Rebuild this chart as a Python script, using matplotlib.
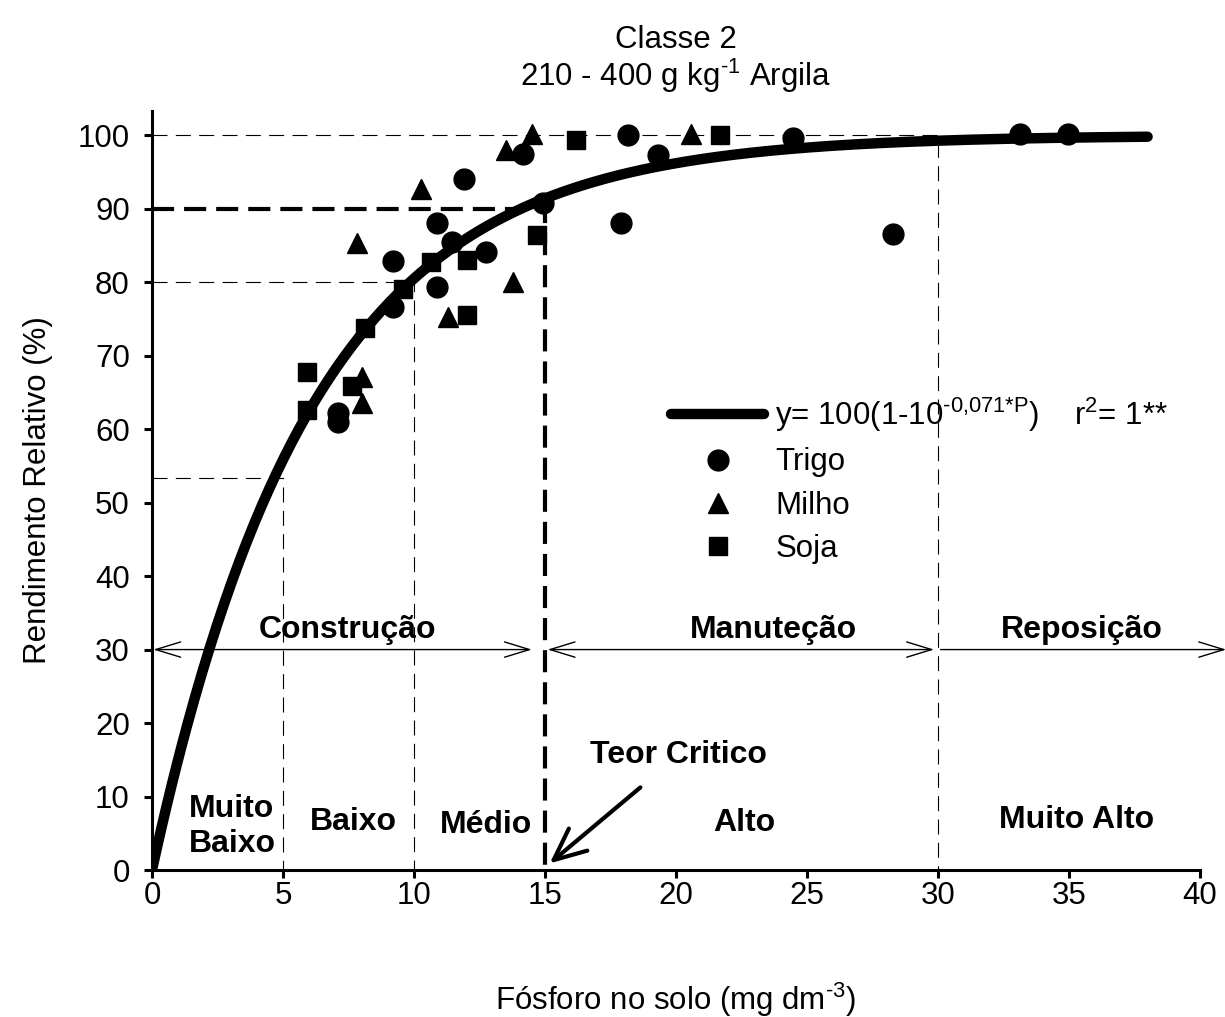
import numpy as np
import matplotlib.pyplot as plt
from matplotlib.lines import Line2D

plt.rcParams['font.family'] = ['Liberation Sans', 'DejaVu Sans']
plt.rcParams['mathtext.default'] = 'regular'

# Rendimento relativo observado por cultura (P no solo, %)
trigo_p = [7.11, 7.11, 9.21, 9.21, 10.87, 10.87, 11.46, 11.92, 12.75, 14.15,
           14.94, 17.9, 18.16, 19.32, 24.45, 28.27, 33.13, 34.97]
trigo_rr = [62.2, 61.0, 82.9, 76.6, 88.1, 79.3, 85.5, 94.1, 84.1, 97.5,
            90.8, 88.1, 100.0, 97.3, 99.6, 86.5, 100.2, 100.2]

milho_p = [7.84, 8.03, 8.03, 10.26, 11.31, 13.51, 13.79, 14.49, 20.56]
milho_rr = [85.3, 67.1, 63.6, 92.7, 75.3, 98.0, 80.0, 100.2, 100.2]

soja_p = [5.93, 5.9, 7.62, 8.13, 9.59, 10.64, 12.01, 12.04, 14.68, 16.18, 21.68]
soja_rr = [67.8, 62.6, 65.9, 73.7, 79.1, 82.7, 83.0, 75.5, 86.4, 99.3, 100.0]

# modelo ajustado: y = 100(1 - 10^(-0,071 P))
coef = 0.071
p_max = 38

# faixas de interpretação
limites = [5, 10, 15, 30]
rr_limites = [53.3, 80, 90, 100]
teor_critico = 15

FS = 22.5
FSB = 23

fig = plt.figure(figsize=(12.25, 10.17), dpi=100)
ax = fig.add_axes([152 / 1225, 1 - 870 / 1017, 1048 / 1225, (870 - 111) / 1017])

thin = dict(color='black', lw=0.8, dashes=(13.5, 7.5))
# linhas guia finas
ax.plot([0, limites[0], limites[0]], [rr_limites[0], rr_limites[0], 0], **thin)
ax.plot([0, limites[1], limites[1]], [rr_limites[1], rr_limites[1], 0], **thin)
ax.plot([0, limites[3], limites[3]], [rr_limites[3], rr_limites[3], 0], **thin)
# teor crítico
ax.plot([0, teor_critico, teor_critico], [90, 90, 0], color='black', lw=3,
        dashes=(5.3, 2.4))

pp = np.linspace(0, p_max, 400)
ax.plot(pp, 100 * (1 - 10 ** (-coef * pp)), color='black', lw=7.5,
        solid_capstyle='round', zorder=3)

ax.plot(trigo_p, trigo_rr, 'o', color='black', ms=15, zorder=4)
ax.plot(milho_p, milho_rr, '^', color='black', ms=14.5, zorder=4)
ax.plot(soja_p, soja_rr, 's', color='black', ms=13.5, zorder=4)

# setas das fases de adubação
seta = 'head_length=1.8,head_width=0.55'
ax.annotate('', xy=(0.05, 30), xytext=(14.5, 30), annotation_clip=False,
            arrowprops=dict(arrowstyle='<->,' + seta, lw=1, color='black',
                            shrinkA=0, shrinkB=0))
ax.annotate('', xy=(15.1, 30), xytext=(29.85, 30), annotation_clip=False,
            arrowprops=dict(arrowstyle='<->,' + seta, lw=1, color='black',
                            shrinkA=0, shrinkB=0))
ax.annotate('', xy=(41.0, 30), xytext=(30.1, 30), annotation_clip=False,
            arrowprops=dict(arrowstyle='->,' + seta, lw=1, color='black',
                            shrinkA=0, shrinkB=0))

bold = dict(fontsize=FSB, fontweight='bold', ha='center', va='center')
ax.text(7.48, 32.6, 'Construção', **bold)
ax.text(23.7, 32.6, 'Manuteção', **bold)
ax.text(35.5, 32.6, 'Reposição', **bold)
ax.text(3.05, 5.9, 'Muito\nBaixo', linespacing=1.2, **bold)
ax.text(7.7, 6.6, 'Baixo', **bold)
ax.text(12.73, 6.1, 'Médio', **bold)
ax.text(22.6, 6.4, 'Alto', **bold)
ax.text(35.3, 6.8, 'Muito Alto', **bold)
ax.annotate('Teor Critico', xy=(15.18, 0.9), xytext=(20.1, 15.6),
            fontsize=FSB, fontweight='bold', ha='center', va='center',
            annotation_clip=False,
            arrowprops=dict(arrowstyle='->,head_length=1.0,head_width=0.45',
                            lw=3, color='black', shrinkA=16, shrinkB=0))

handles = [
    Line2D([], [], color='black', lw=7.5, solid_capstyle='round'),
    Line2D([], [], marker='o', ls='', color='black', ms=15),
    Line2D([], [], marker='^', ls='', color='black', ms=14.5),
    Line2D([], [], marker='s', ls='', color='black', ms=13.5),
]
labels = ['y= 100(1-10$^{\u2010 0{,}071{*}P}$)    r$^2$= 1**',
          'Trigo', 'Milho', 'Soja']
ax.legend(handles, labels, loc='upper left', frameon=False, fontsize=FS,
          bbox_to_anchor=(0.48, 0.645), handlelength=3.0, handletextpad=0.35,
          labelspacing=0.42, borderpad=0)

ax.set_xlim(0, 40)
ax.set_ylim(0, 103.3)
ax.set_xticks(range(0, 41, 5))
ax.set_yticks(range(0, 101, 10))
ax.spines[['top', 'right']].set_visible(False)
for s in ['left', 'bottom']:
    ax.spines[s].set_linewidth(2.2)
ax.tick_params(direction='out', length=6, width=2.2, labelsize=FS)
ax.tick_params(axis='x', pad=2)
ax.tick_params(axis='y', pad=10)
ax.set_xlabel('Fósforo no solo (mg dm$^{\u20103}$)', fontsize=FS, labelpad=50)
ax.set_ylabel('Rendimento Relativo (%)', fontsize=FS, labelpad=18)
ax.set_title('Classe 2\n210 - 400 g kg$^{\u20101}$ Argila', fontsize=FS,
             pad=18, linespacing=1.05)

fig.savefig('out.png', dpi=100)
